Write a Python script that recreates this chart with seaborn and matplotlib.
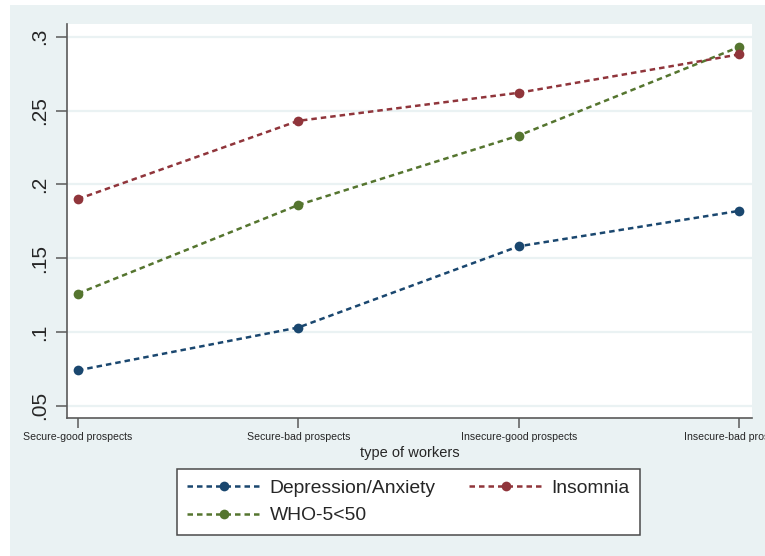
import matplotlib
matplotlib.use("Agg")
import matplotlib.pyplot as plt
from matplotlib.patches import Rectangle
import seaborn as sns
import pandas as pd

# Share of workers reporting each outcome, by type of worker
worker_types = ["Secure-good prospects", "Secure-bad prospects",
                "Insecure-good prospects", "Insecure-bad prospects"]
depression_anxiety = [0.074, 0.103, 0.158, 0.182]
insomnia = [0.190, 0.243, 0.262, 0.288]
who5_below_50 = [0.126, 0.186, 0.233, 0.293]

series_names = ["Depression/Anxiety", "WHO-5<50", "Insomnia"]
series_values = [depression_anxiety, who5_below_50, insomnia]
series_colors = {"Depression/Anxiety": "#1a476f",
                 "Insomnia": "#90353b",
                 "WHO-5<50": "#55752f"}

y_ticks = [0.05, 0.10, 0.15, 0.20, 0.25, 0.30]
y_tick_labels = [".05", ".1", ".15", ".2", ".25", ".3"]

rows = []
for name, vals in zip(series_names, series_values):
    for pos, (w, v) in enumerate(zip(worker_types, vals)):
        rows.append({"pos": pos, "worker": w, "outcome": name, "share": v})
df = pd.DataFrame(rows)

sns.set_theme(style="white")
plt.rcParams["font.family"] = ["Liberation Sans", "DejaVu Sans"]

W, H = 765, 556
fig = plt.figure(figsize=(W / 100, H / 100), dpi=100, facecolor="white")
bg = "#eaf2f3"
fig.patches.append(Rectangle((10 / W, 0), 1, (H - 5) / H, transform=fig.transFigure,
                             facecolor=bg, edgecolor="none", zorder=-10))

ax = fig.add_axes([66.7 / W, 1 - 418 / H, (752 - 66.7) / W, (418 - 24) / H])
ax.set_facecolor("white")

sns.lineplot(data=df, x="pos", y="share", hue="outcome", hue_order=series_names,
             palette=series_colors, marker="o", markersize=7, markeredgewidth=0,
             linewidth=1.8, linestyle=(0, (2.2, 1.6)), ax=ax, legend=False)

ax.set_xlim(-0.051, 3.059)
ax.set_ylim(0.0417, 0.3086)
ax.set_xticks(range(len(worker_types)))
ax.set_xticklabels(worker_types, fontsize=7.6)
ax.set_yticks(y_ticks)
ax.set_yticklabels(y_tick_labels, rotation=90, va="center", fontsize=15)

ax.grid(axis="y", color=bg, linewidth=1.6)
ax.grid(axis="x", visible=False)
ax.set_axisbelow(True)

for side in ["top", "right"]:
    ax.spines[side].set_visible(False)
for side in ["left", "bottom"]:
    ax.spines[side].set_color("#5a5a5a")
    ax.spines[side].set_linewidth(1.2)

ax.tick_params(axis="y", direction="out", length=8, width=1.1, color="#5a5a5a",
               pad=5, left=True)
ax.tick_params(axis="x", direction="out", length=7, width=1.1, color="#5a5a5a",
               pad=3, bottom=True)

ax.set_xlabel("type of workers", fontsize=10.5, labelpad=3)
ax.set_ylabel("")

handles = []
for name in series_names:
    h, = ax.plot([], [], color=series_colors[name], marker="o", markersize=7,
                 markeredgewidth=0, linewidth=1.8, linestyle=(0, (2.2, 1.6)))
    handles.append(h)

leg = fig.legend(handles, series_names, ncol=2, loc="center",
                 bbox_to_anchor=(408.5 / W, 1 - 502 / H), fontsize=13.9,
                 frameon=True, fancybox=False, edgecolor="#4a4a4a",
                 facecolor="white", framealpha=1, handlelength=3.8,
                 handletextpad=0.45, columnspacing=1.75, labelspacing=0.5,
                 borderpad=0.55, numpoints=1)
leg.get_frame().set_linewidth(1.1)

fig.savefig("out.png", dpi=100, facecolor=fig.get_facecolor())
